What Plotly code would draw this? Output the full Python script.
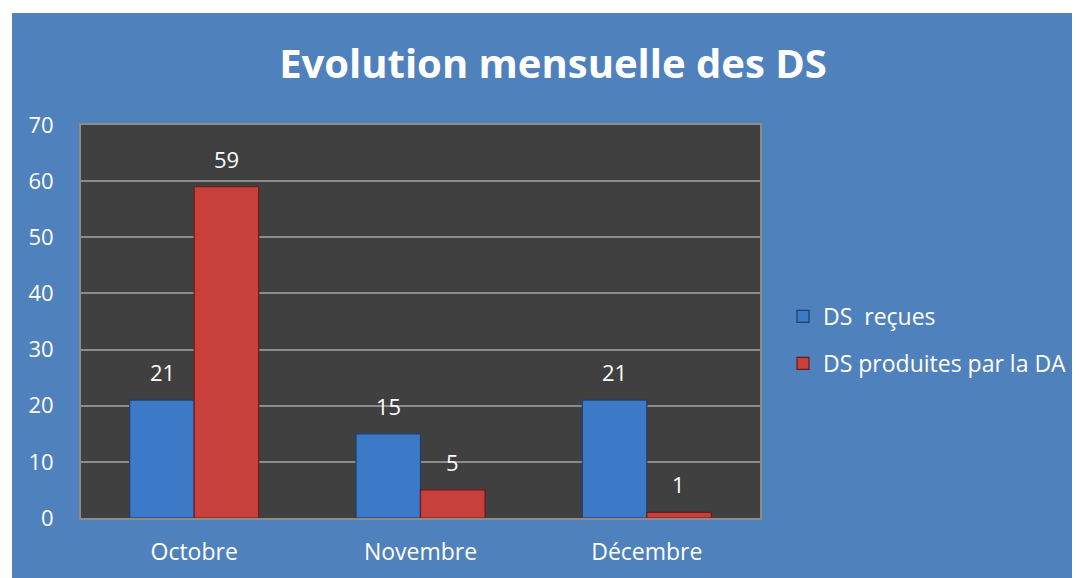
import plotly.graph_objects as go

categories = ["Octobre", "Novembre", "Décembre"]
ds_recues = [21, 15, 21]
ds_produites = [59, 5, 1]
series_names = ["DS  reçues", "DS produites par la DA"]
y_ticks = [0, 10, 20, 30, 40, 50, 60, 70]

# page has an 8px body margin; figure is placed at (8, 8)
W, H = 1072, 570
L, R, T, B = 73, 752, 117, 510
BLUE_BG = "#4F81BD"
FONT = "Open Sans"
BLUE = "#3C79C6"
RED = "#C8403C"

fig = go.Figure()
fig.add_trace(go.Bar(
    x=categories, y=ds_recues, name=series_names[0], legendgroup="a",
    marker=dict(color=BLUE, line=dict(color="#1F3F6E", width=1.2)),
))
fig.add_trace(go.Bar(
    x=categories, y=ds_produites, name=series_names[1], legendgroup="b",
    marker=dict(color=RED, line=dict(color="#6E1A18", width=1.2)),
))

# value labels above bars
for series, shift in ((ds_recues, -32), (ds_produites, 32)):
    for cat, val in zip(categories, series):
        fig.add_annotation(
            x=cat, y=val, text=str(val), showarrow=False,
            xshift=shift, yshift=28, yanchor="middle",
            font=dict(size=22, color="white", family=FONT),
        )

fig.update_layout(
    width=W, height=H,
    margin=dict(l=L, r=W - R, t=T, b=H - B, pad=0, autoexpand=False),
    paper_bgcolor=BLUE_BG,
    plot_bgcolor="#404040",
    barmode="group",
    bargap=0.43,
    bargroupgap=0.0,
    title=dict(
        text="<b>Evolution mensuelle des DS</b>",
        x=545 / W, xanchor="center",
        y=1 - 56 / H, yanchor="middle",
        font=dict(size=40, color="white", family=FONT),
    ),
    font=dict(family=FONT, color="white"),
    legend=dict(
        x=(775 - L) / (R - L), xanchor="left",
        y=(B - 332) / (B - T), yanchor="middle",
        font=dict(size=23, color="white", family=FONT),
        bgcolor="rgba(0,0,0,0)",
        tracegroupgap=14,
        itemwidth=30,
    ),
    showlegend=True,
)
fig.update_yaxes(
    range=[0, 70], tickvals=y_ticks, ticktext=[str(v) for v in y_ticks],
    showgrid=True, gridcolor="#8C8C8C", gridwidth=1.5,
    tickfont=dict(size=22, color="white", family=FONT),
    ticklabelstandoff=21, automargin=False,
    showline=True, linecolor="#8C8C8C", linewidth=2, mirror=True,
    zeroline=False, ticks="",
)
fig.update_xaxes(
    tickfont=dict(size=23, color="white", family=FONT),
    ticklabelstandoff=12, automargin=False,
    showline=True, linecolor="#8C8C8C", linewidth=2, mirror=True,
    ticks="",
)

# white outer margins (top and left)
fig.add_shape(type="rect", xref="paper", yref="paper",
              x0=-L / (R - L) - 0.01, x1=(W - L) / (R - L) + 0.01,
              y0=(B - 5) / (B - T), y1=B / (B - T) + 0.02,
              fillcolor="white", line=dict(width=0), layer="above")
fig.add_shape(type="rect", xref="paper", yref="paper",
              x0=-L / (R - L) - 0.01, x1=(4 - L) / (R - L),
              y0=(B - H) / (B - T) - 0.01, y1=B / (B - T) + 0.02,
              fillcolor="white", line=dict(width=0), layer="above")

fig.write_html("out.html")
